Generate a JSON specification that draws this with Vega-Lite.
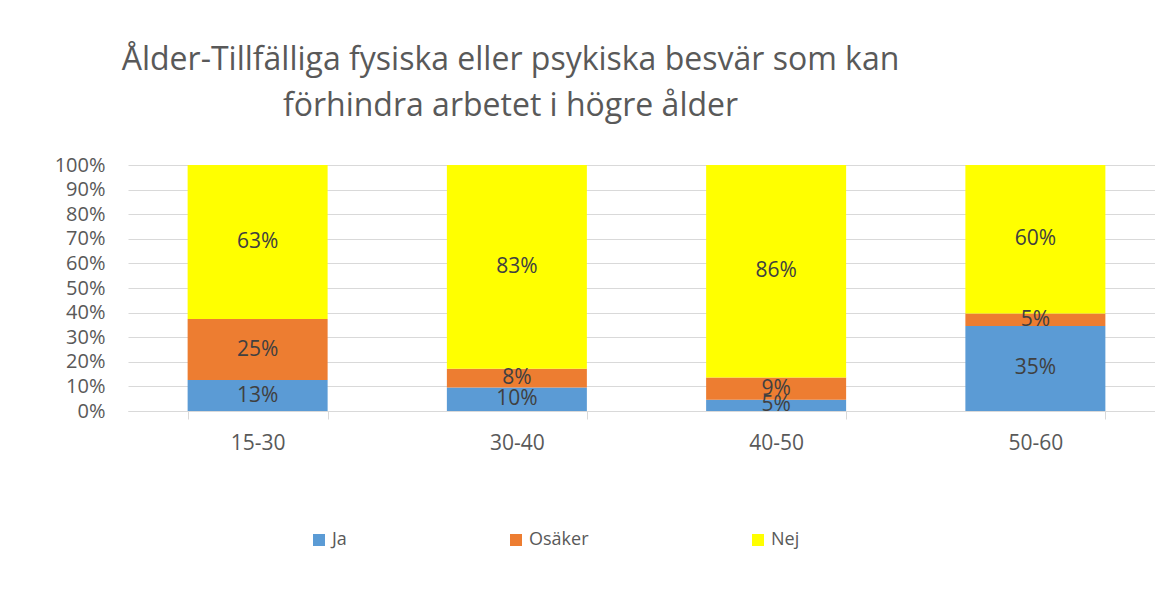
{
  "$schema": "https://vega.github.io/schema/vega-lite/v6.json",
  "autosize": "none",
  "width": 1037,
  "height": 246,
  "padding": {"left": 128, "top": 165, "right": 0, "bottom": 202},
  "background": "white",
  "config": {"view": {"stroke": null}},
  "title": {
    "text": ["Ålder-Tillfälliga fysiska eller psykiska besvär som kan", "förhindra arbetet i högre ålder"],
    "anchor": "middle",
    "frame": "group",
    "dx": -136,
    "offset": 32,
    "fontSize": 32,
    "fontWeight": "normal",
    "font": "Open Sans",
    "color": "#595959",
    "lineHeight": 46
  },
  "data": {
    "values": [
      {"age": "15-30", "svar": "Ja", "i": 1, "v": 0.126},
      {"age": "15-30", "svar": "Osäker", "i": 2, "v": 0.248},
      {"age": "15-30", "svar": "Nej", "i": 3, "v": 0.626},
      {"age": "30-40", "svar": "Ja", "i": 1, "v": 0.096},
      {"age": "30-40", "svar": "Osäker", "i": 2, "v": 0.076},
      {"age": "30-40", "svar": "Nej", "i": 3, "v": 0.828},
      {"age": "40-50", "svar": "Ja", "i": 1, "v": 0.046},
      {"age": "40-50", "svar": "Osäker", "i": 2, "v": 0.09},
      {"age": "40-50", "svar": "Nej", "i": 3, "v": 0.864},
      {"age": "50-60", "svar": "Ja", "i": 1, "v": 0.346},
      {"age": "50-60", "svar": "Osäker", "i": 2, "v": 0.05},
      {"age": "50-60", "svar": "Nej", "i": 3, "v": 0.604}
    ]
  },
  "transform": [
    {"stack": "v", "groupby": ["age"], "sort": [{"field": "i", "order": "ascending"}], "offset": "normalize", "as": ["y0", "y1"]},
    {"calculate": "(datum.y0 + datum.y1) / 2", "as": "ym"}
  ],
  "encoding": {
    "x": {
      "field": "age",
      "type": "nominal",
      "title": null,
      "scale": {"paddingInner": 0.46, "paddingOuter": 0.23},
      "axis": {
        "labelAngle": 0,
        "domainColor": "#d9d9d9",
        "tickColor": "#d9d9d9",
        "tickSize": 8,
        "tickBand": "extent",
        "labelPadding": 13,
        "labelFont": "Open Sans",
        "labelFontSize": 21,
        "labelColor": "#595959",
        "grid": false
      }
    }
  },
  "layer": [
    {
      "mark": {"type": "bar"},
      "encoding": {
        "y": {
          "field": "y0",
          "type": "quantitative",
          "title": null,
          "scale": {"domain": [0, 1], "nice": false},
          "axis": {
            "values": [0, 0.1, 0.2, 0.3, 0.4, 0.5, 0.6, 0.7, 0.8, 0.9, 1],
            "format": ".0%",
            "labelOverlap": false,
            "domain": false,
            "ticks": false,
            "gridColor": "#d9d9d9",
            "gridWidth": 1.2,
            "labelPadding": 23,
            "labelFont": "Open Sans",
            "labelFontSize": 20,
            "labelColor": "#595959"
          }
        },
        "y2": {"field": "y1"},
        "color": {
          "field": "svar",
          "type": "nominal",
          "scale": {"domain": ["Ja", "Osäker", "Nej"], "range": ["#5B9BD5", "#ED7D31", "#FFFF00"]},
          "legend": {
            "title": null,
            "orient": "none",
            "direction": "horizontal",
            "legendX": 182,
            "legendY": 366,
            "symbolType": "square",
            "symbolSize": 144,
            "symbolStrokeWidth": 0,
            "labelFont": "Open Sans",
            "labelFontSize": 18,
            "labelColor": "#595959",
            "labelOffset": 4,
            "columnPadding": 160
          }
        }
      }
    },
    {
      "mark": {"type": "text", "font": "Open Sans", "fontSize": 21, "color": "#404040", "baseline": "middle"},
      "encoding": {
        "y": {
          "field": "ym",
          "type": "quantitative",
          "title": null,
          "scale": {"domain": [0, 1], "nice": false},
          "axis": {
            "values": [0, 0.1, 0.2, 0.3, 0.4, 0.5, 0.6, 0.7, 0.8, 0.9, 1],
            "format": ".0%",
            "labelOverlap": false,
            "domain": false,
            "ticks": false,
            "gridColor": "#d9d9d9",
            "gridWidth": 1.2,
            "labelPadding": 23,
            "labelFont": "Open Sans",
            "labelFontSize": 20,
            "labelColor": "#595959"
          }
        },
        "text": {"field": "v", "type": "quantitative", "format": ".0%"}
      }
    }
  ]
}
